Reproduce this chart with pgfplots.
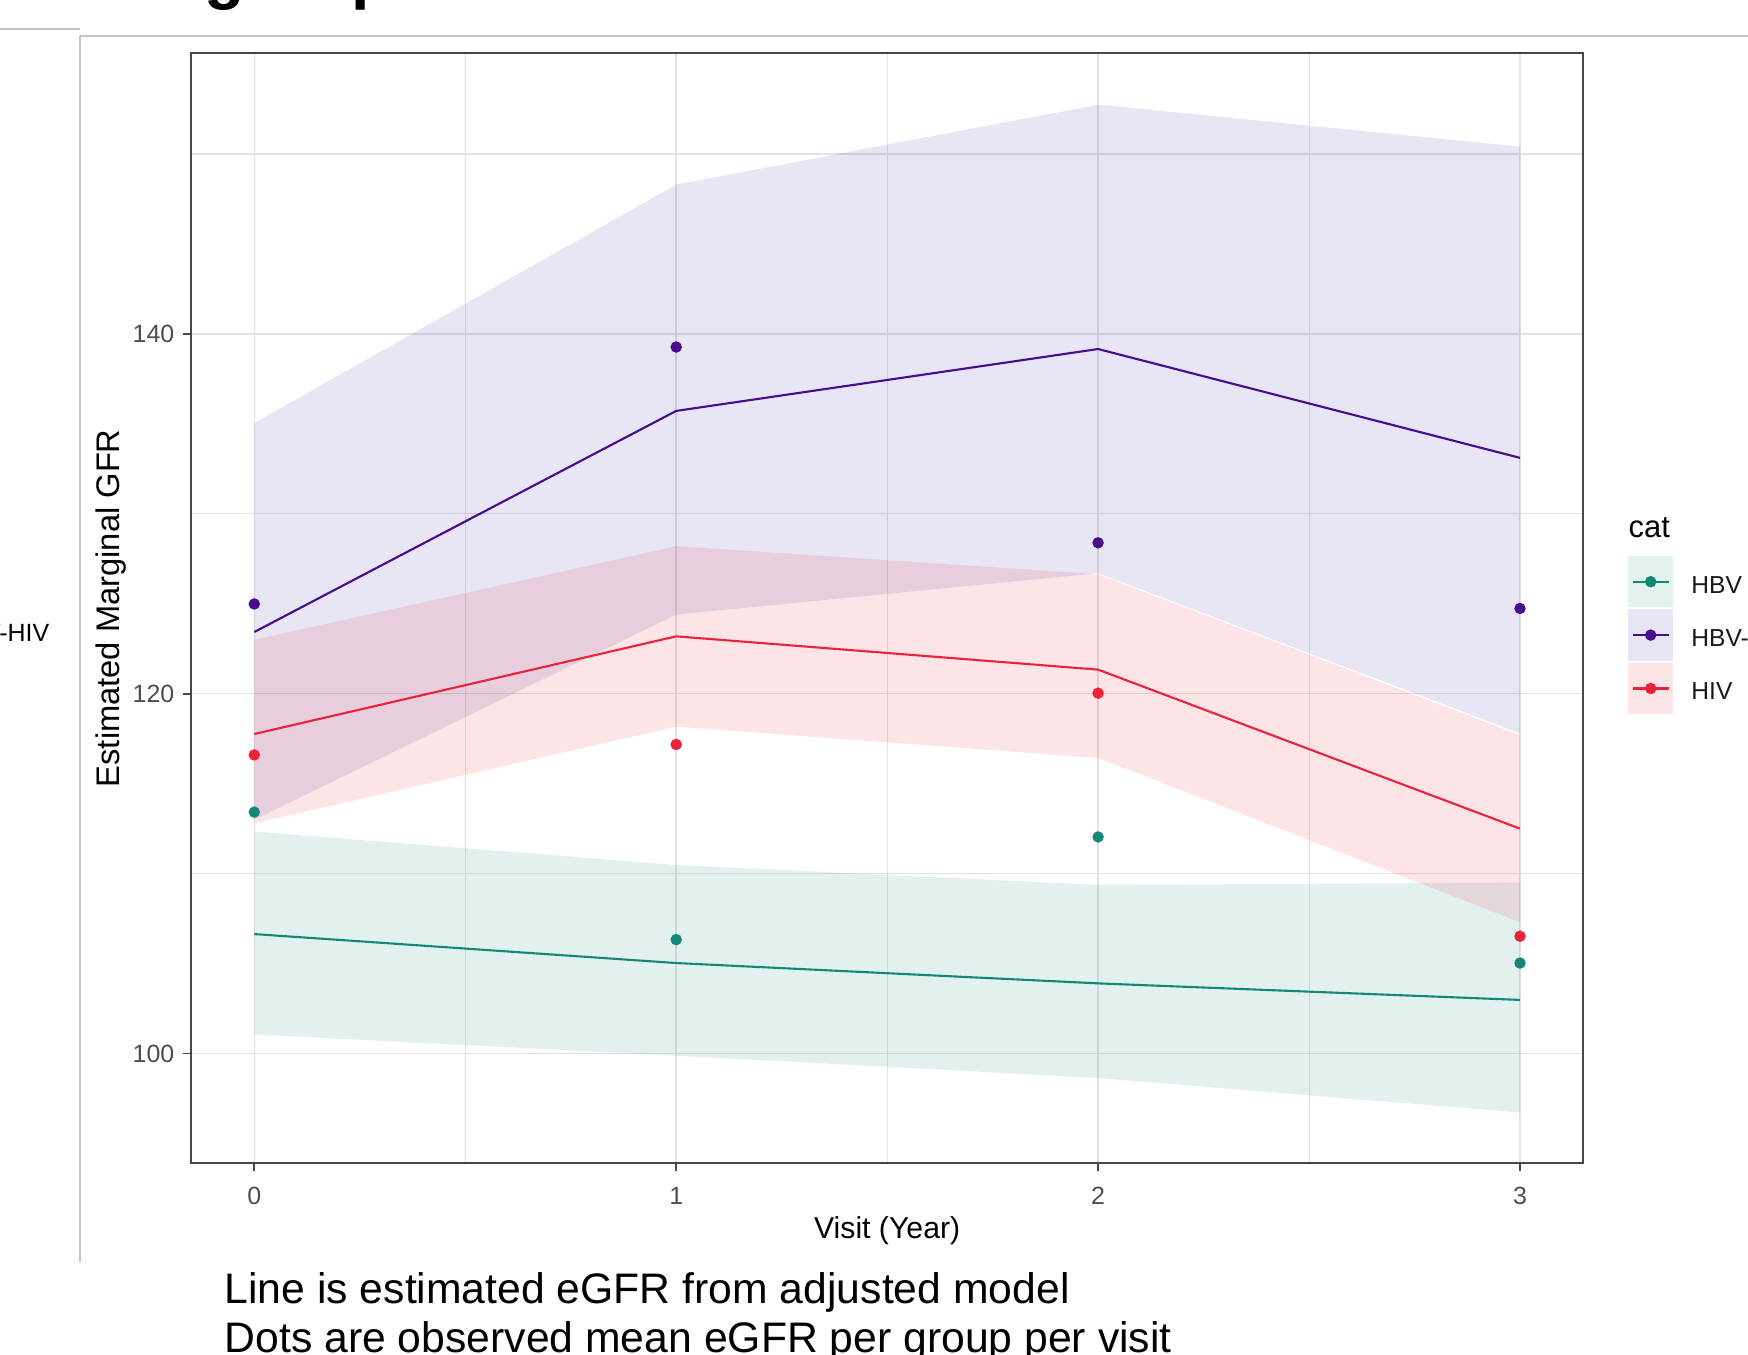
\documentclass[border=0pt]{standalone}
\usepackage{fontspec}
\setmainfont{Liberation Sans}
\usepackage{pgfplots}
\usepgfplotslibrary{fillbetween}
\usepackage{pgfplotstable}
\pgfplotsset{compat=1.18}

\definecolor{hbv}{RGB}{20,135,120}
\definecolor{hbvhiv}{RGB}{72,12,140}
\definecolor{hbvhivfill}{RGB}{62,40,165}
\definecolor{hiv}{RGB}{232,35,58}
\definecolor{gridc}{RGB}{226,226,226}
\definecolor{tickc}{RGB}{77,77,77}
\definecolor{framec}{RGB}{198,198,198}

\pgfplotstableread{
x est lo hi obs
0 106.64 101.06 112.34 113.42
1 105.03 99.88 110.48 106.33
2 103.90 98.64 109.37 112.04
3 102.98 96.72 109.50 105.03
}\tabhbv
\pgfplotstableread{
x est lo hi obs
0 123.43 113.00 135.05 124.99
1 135.72 124.40 148.30 139.27
2 139.16 126.70 152.74 128.39
3 133.11 117.80 150.41 124.74
}\tabhbvhiv
\pgfplotstableread{
x est lo hi obs
0 117.76 112.80 123.00 116.60
1 123.19 118.17 128.20 117.18
2 121.34 116.43 126.64 120.03
3 112.50 107.30 117.70 106.52
}\tabhiv

\begin{document}
\begin{tikzpicture}
% slide frame
\draw[framec, line width=0.57pt] (0,13.26) -- (0.80,13.26);
\draw[framec, line width=0.57pt] (0.80,13.193) -- (17.48,13.193);
\draw[framec, line width=0.57pt] (0.80,13.193) -- (0.80,0.93);

% clipped slide title
\node[anchor=base west, inner sep=0pt, font=\bfseries\fontsize{18.8}{20}\selectfont] at (2.04,13.582) {group};

\begin{axis}[
  at={(1.91cm,1.917cm)}, anchor=south west,
  scale only axis, width=13.923cm, height=11.10cm,
  xmin=-0.15, xmax=3.15, ymin=93.9, ymax=155.6,
  xtick={0,1,2,3}, ytick={100,120,140},
  minor xtick={0.5,1.5,2.5}, minor ytick={110,130,150},
  grid=both,
  major grid style={gridc, line width=0.42pt},
  minor grid style={gridc, line width=0.3pt},
  axis line style={draw=black!72, line width=0.6pt},
  tick style={draw=black!72, line width=0.5pt},
  tick align=outside, major tick length=0.08cm, minor tick length=0pt,
  xtick pos=lower, ytick pos=left,
  /pgf/number format/assume math mode=true,
  ticklabel style={font=\fontsize{7.1}{8}\selectfont, text=tickc, inner sep=0pt},
  xticklabel style={yshift=-0.15cm},
  yticklabel style={xshift=-0.08cm},
  xlabel={Visit (Year)}, ylabel={Estimated Marginal GFR},
  label style={font=\fontsize{8.6}{10}\selectfont, text=black, inner sep=0pt},
  xlabel style={at={(axis description cs:0.5,0)}, anchor=center, yshift=-0.67cm},
  ylabel style={at={(axis description cs:0,0.5)}, anchor=center, yshift=0.80cm, font=\fontsize{9.3}{10}\selectfont},
  clip=false,
  legend cell align=left,
  legend style={at={(rel axis cs:1.0321,0.5471)}, anchor=north west, draw=none, fill=none,
    inner sep=0pt, outer sep=0pt, row sep=0.02cm, column sep=0.18cm,
    font=\fontsize{7}{8}\selectfont, nodes={inner sep=0pt, text=black!90}},
]
% ribbons
\addplot[name path=a1, draw=none, forget plot] table[x=x,y=hi]{\tabhbv};
\addplot[name path=b1, draw=none, forget plot] table[x=x,y=lo]{\tabhbv};
\addplot[fill=hbv, fill opacity=0.12, draw=none, forget plot] fill between[of=a1 and b1];
\addplot[name path=a2, draw=none, forget plot] table[x=x,y=hi]{\tabhbvhiv};
\addplot[name path=b2, draw=none, forget plot] table[x=x,y=lo]{\tabhbvhiv};
\addplot[fill=hbvhivfill, fill opacity=0.12, draw=none, forget plot] fill between[of=a2 and b2];
\addplot[name path=a3, draw=none, forget plot] table[x=x,y=hi]{\tabhiv};
\addplot[name path=b3, draw=none, forget plot] table[x=x,y=lo]{\tabhiv};
\addplot[fill=hiv, fill opacity=0.12, draw=none, forget plot] fill between[of=a3 and b3];
% lines
\addplot[hbv, line width=0.6pt, forget plot] table[x=x,y=est]{\tabhbv};
\addplot[hbvhiv, line width=0.6pt, forget plot] table[x=x,y=est]{\tabhbvhiv};
\addplot[hiv, line width=0.6pt, forget plot] table[x=x,y=est]{\tabhiv};
% observed means
\addplot[only marks, mark=*, mark size=1.42pt, hbv, forget plot] table[x=x,y=obs]{\tabhbv};
\addplot[only marks, mark=*, mark size=1.42pt, hbvhiv, forget plot] table[x=x,y=obs]{\tabhbvhiv};
\addplot[only marks, mark=*, mark size=1.42pt, hiv, forget plot] table[x=x,y=obs]{\tabhiv};

% legend
\addlegendimage{legend image code/.code={
  \fill[hbv!12] (0cm,-0.194cm) rectangle (0.44cm,0.306cm);
  \draw[hbv, line width=0.6pt] (0.04cm,0.056cm) -- (0.40cm,0.056cm);
  \fill[hbv] (0.22cm,0.056cm) circle (0.05cm);}}
\addlegendentry{HBV}
\addlegendimage{legend image code/.code={
  \fill[hbvhivfill!12] (0cm,-0.194cm) rectangle (0.44cm,0.306cm);
  \draw[hbvhiv, line width=0.6pt] (0.04cm,0.056cm) -- (0.40cm,0.056cm);
  \fill[hbvhiv] (0.22cm,0.056cm) circle (0.05cm);}}
\addlegendentry{HBV-HIV}
\addlegendimage{legend image code/.code={
  \fill[hiv!12] (0cm,-0.194cm) rectangle (0.44cm,0.306cm);
  \draw[hiv, line width=0.6pt] (0.04cm,0.056cm) -- (0.40cm,0.056cm);
  \fill[hiv] (0.22cm,0.056cm) circle (0.05cm);}}
\addlegendentry{HIV}

\node[anchor=base west, inner sep=0pt, font=\fontsize{8.8}{10}\selectfont] at (rel axis cs:1.0321,0.5642) {cat};
\end{axis}

% cut-off legend label from neighbouring panel
\node[anchor=base east, inner sep=0pt, font=\fontsize{7.1}{8}\selectfont] at (0.50,7.13) {HBV-HIV};

% footnote
\node[anchor=base west, inner sep=0pt, font=\fontsize{12.15}{14}\selectfont] at (2.24,0.51) {Line is estimated eGFR from adjusted model};
\node[anchor=base west, inner sep=0pt, font=\fontsize{12.15}{14}\selectfont] at (2.24,0.02) {Dots are observed mean eGFR per group per visit};

\pgfresetboundingbox
\path[use as bounding box] (0,0) rectangle (17.48,13.55);
\end{tikzpicture}
\end{document}
